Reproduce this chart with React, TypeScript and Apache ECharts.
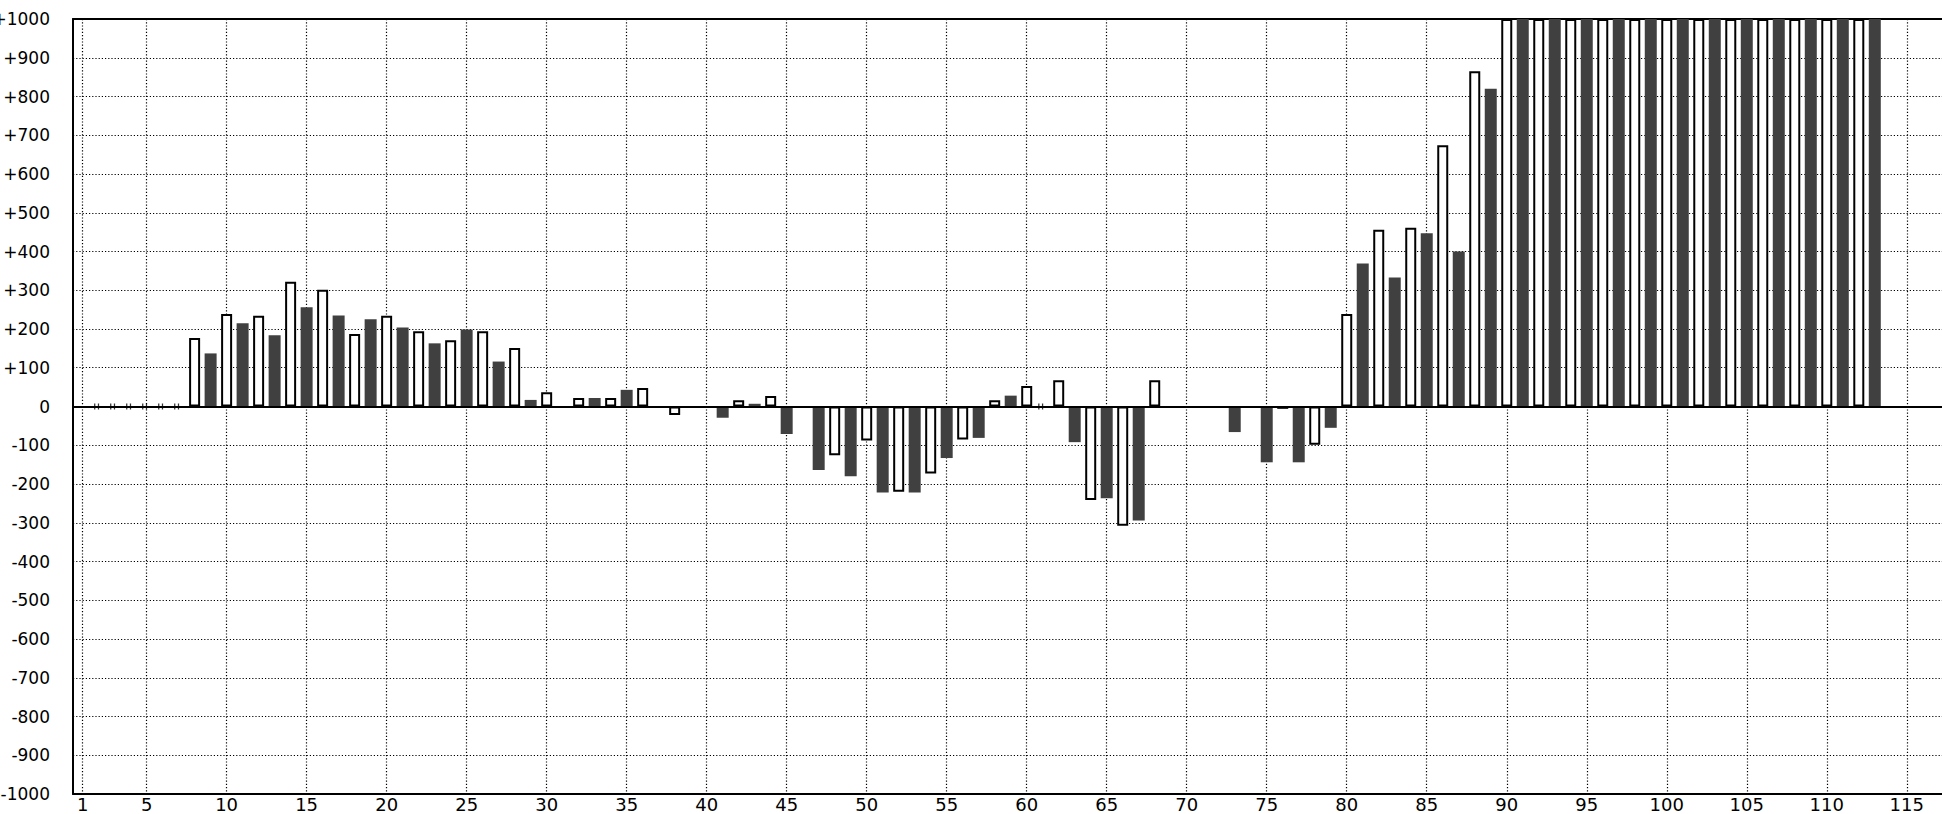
import React, { useEffect, useRef } from "react";
import * as echarts from "echarts";

// Bar values by position, starting at position 1 (null = no bar, 0 = zero mark)
const firstPosition = 1;
const values: (number | null)[] = [
  null, 0, 0, 0, 0, 0, 0, 177, 137, 239, // 1-10
  215, 234, 184, 322, 256, 301, 235, 187, 225, 234, // 11-20
  204, 194, 163, 171, 199, 194, 116, 151, 17, 37, // 21-30
  null, 22, 22, 22, 43, 48, null, -22, null, null, // 31-40
  -29, 16, 7, 27, -71, null, -164, -126, -180, -88, // 41-50
  -222, -220, -222, -173, -133, -85, -81, 16, 28, 53, // 51-60
  0, 68, -92, -241, -237, -308, -294, 68, null, null, // 61-70
  null, null, -66, null, -144, -6, -144, -99, -55, 239, // 71-80
  369, 456, 333, 461, 447, 674, 400, 865, 820, 1000, // 81-90
  1000, 1000, 1000, 1000, 1000, 1000, 1000, 1000, 1000, 1000, // 91-100
  1000, 1000, 1000, 1000, 1000, 1000, 1000, 1000, 1000, 1000, // 101-110
  1000, 1000, 1000, // 111-113
];

const xTickValues = [1, 5, 10, 15, 20, 25, 30, 35, 40, 45, 50, 55, 60, 65, 70, 75, 80, 85, 90, 95, 100, 105, 110, 115];
const yMin = -1000;
const yMax = 1000;
const yStep = 100;

export default function App() {
  const ref = useRef<HTMLDivElement>(null);

  useEffect(() => {
    document.body.style.margin = "0";
    document.body.style.overflow = "hidden";
    if (!ref.current) return;
    const chart = echarts.init(ref.current, null, { renderer: "svg" });

    const outlined: [number, number][] = [];
    const filled: [number, number][] = [];
    const zeroMarks: [number, number][] = [];
    values.forEach((v, i) => {
      const pos = firstPosition + i;
      if (v === null) return;
      if (v === 0) {
        zeroMarks.push([pos, 0]);
        return;
      }
      if (pos % 2 === 0) outlined.push([pos, v]);
      else filled.push([pos, v]);
    });

    const font = "DejaVu Sans";
    const dotted = { color: "#000", width: 1.2, type: [1.2, 2] as number[] };

    const option: any = {
      animation: false,
      backgroundColor: "#ffffff",
      grid: {
        left: 73,
        top: 19,
        right: 0,
        bottom: 20,
        containLabel: false,
        outerBoundsMode: "none",
      },
      xAxis: [
        {
          type: "value",
          min: 0.4,
          max: 117.2,
          position: "bottom",
          axisLine: { show: true, onZero: false, lineStyle: { color: "#000", width: 2 } },
          axisTick: { show: false, customValues: xTickValues },
          axisLabel: {
            customValues: xTickValues,
            color: "#000",
            fontFamily: font,
            fontSize: 18,
            margin: 1,
            formatter: (v: number) => String(v),
          },
          splitLine: { show: true, lineStyle: dotted },
        },
        {
          type: "value",
          min: 0.4,
          max: 117.2,
          position: "top",
          axisLine: { show: true, onZero: false, lineStyle: { color: "#000", width: 2 } },
          axisTick: { show: false },
          axisLabel: { show: false },
          splitLine: { show: false },
        },
      ],
      yAxis: {
        type: "value",
        min: yMin,
        max: yMax,
        interval: yStep,
        axisLine: { show: true, onZero: false, lineStyle: { color: "#000", width: 2 } },
        axisTick: { show: false },
        axisLabel: {
          color: "#000",
          fontFamily: font,
          fontSize: 17,
          margin: 23,
          formatter: (v: number) => (v > 0 ? `+${v}` : `${v}`),
        },
        splitLine: { show: true, lineStyle: dotted },
      },
      series: [
        {
          type: "bar",
          xAxisIndex: 0,
          yAxisIndex: 0,
          data: outlined,
          barWidth: 11,
          itemStyle: { color: "#ffffff", borderColor: "#000", borderWidth: 2 },
          silent: true,
        },
        {
          type: "bar",
          xAxisIndex: 1,
          yAxisIndex: 0,
          data: filled,
          barWidth: 12,
          itemStyle: { color: "#404040" },
          silent: true,
          markLine: {
            silent: true,
            symbol: ["none", "none"],
            label: { show: false },
            lineStyle: { color: "#000", width: 2, type: "solid" },
            data: [{ yAxis: 0 }],
          },
        },
        {
          type: "scatter",
          xAxisIndex: 0,
          yAxisIndex: 0,
          data: zeroMarks,
          symbol: "path://M0,0h1v7h-1zM3,0h1v7h-1z",
          symbolSize: [5, 6],
          symbolOffset: [-2, 0],
          itemStyle: { color: "#000" },
          silent: true,
          z: 5,
        },
      ],
    };

    chart.setOption(option);
    return () => chart.dispose();
  }, []);

  return <div ref={ref} style={{ width: 1942, height: 814 }} />;
}
